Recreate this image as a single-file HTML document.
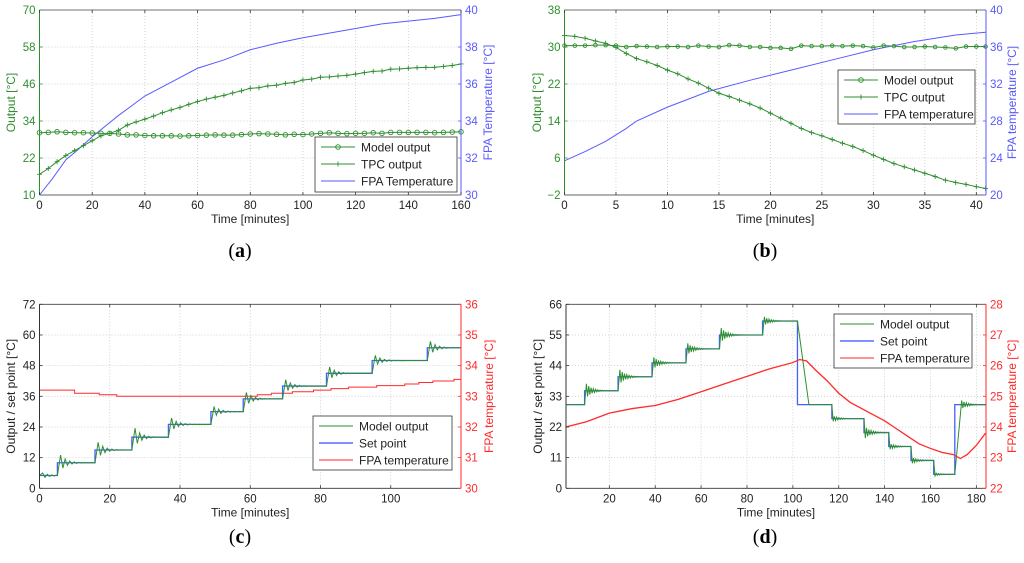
<!DOCTYPE html>
<html><head><meta charset="utf-8">
<style>
html,body{margin:0;padding:0;background:#fff;}
svg{display:block;font-family:"Liberation Sans",sans-serif;}
.cap{font-family:"Liberation Serif",serif;font-size:20px;}
</style></head>
<body>
<svg id="fig" width="1024" height="563" viewBox="0 0 1024 563"></svg>
<script>
// ---------- Panel (a) data ----------
const aTime = [0,3.33,6.67,10,13.33,16.67,20,23.33,26.67,30,33.33,36.67,40,43.33,46.67,50,53.33,56.67,60,63.33,66.67,70,73.33,76.67,80,83.33,86.67,90,93.33,96.67,100,103.33,106.67,110,113.33,116.67,120,123.33,126.67,130,133.33,136.67,140,143.33,146.67,150,153.33,156.67,160];
const aModel = [30.2,30.3,30.5,30.3,30.2,30.2,30.1,30,30,29.8,29.5,29.5,29.3,29.2,29.2,29.2,29.1,29.2,29.3,29.4,29.5,29.4,29.4,29.6,29.8,29.9,29.8,29.7,29.5,29.7,29.6,29.8,30,30.2,30,29.9,30,30,30.2,30,30.3,30.3,30.3,30.3,30.3,30.2,30.3,30.4,30.5];
const aTPC = [16.7,18.6,20.8,22.8,24.4,26,27.6,29.2,30,31,32.7,33.7,34.6,35.6,36.7,37.6,38.4,39.4,40.3,41.1,41.7,42.3,43.1,43.8,44.6,44.8,45.4,45.6,46.2,46.5,47.3,47.6,48.2,48.3,48.6,48.8,49.2,49.7,50.1,50.2,50.8,50.9,51.1,51.3,51.4,51.4,51.7,52,52.5];
const aFpaT = [0,5,10,15,20,30,40,50,60,70,80,90,100,110,120,130,140,150,160];
const aFpa = [30,30.9,31.9,32.5,33.15,34.3,35.35,36.1,36.85,37.3,37.85,38.2,38.5,38.75,39,39.25,39.4,39.55,39.75];
// ---------- Panel (b) data ----------
const bTime = [0,1,2,3,4,5,6,7,8,9,10,11,12,13,14,15,16,17,18,19,20,21,22,23,24,25,26,27,28,29,30,31,32,33,34,35,36,37,38,39,40,40.9];
const bTPC = [32.5,32.3,31.9,31.3,30.8,29.9,28.6,27.5,26.8,26,25,24.2,23.1,22.2,21.1,20,19.3,18.5,17.7,16.8,15.7,14.6,13.5,12.4,11.5,10.8,10,9.2,8.5,7.6,6.6,5.7,4.8,4.1,3.4,2.7,2,1.2,0.7,0.3,-0.2,-0.6];
const bModel = [30.3,30.3,30.3,30.4,30.4,30.3,30,30.2,30.1,30,30.1,30.1,30,30.3,30.1,30,30.4,30.3,30,30,29.8,29.8,29.6,30.3,30.2,30.2,30.3,30.2,30.3,30.2,29.9,30.3,30.2,30,30,30.1,30,29.9,29.7,30.1,30.1,30.1];
const bFpaT = [0,2,4,6,7,10,14,18,22,26,30,34,38,40.9];
const bFpa = [23.7,24.7,25.8,27.2,28,29.5,31.2,32.4,33.5,34.6,35.7,36.6,37.3,37.6];
// ---------- Panel (c) data ----------
const cStepT = [0,5.1,15.8,26.3,36.7,48.8,58,69.2,81.7,94.7,110.4];
const cSet = [5,10,15,20,25,30,35,40,45,50,55];
const cPeak = [6,13,18,23.5,27.5,32,37.5,42.5,47.5,52,57.5];
const cFpaT = [0,10,17,22,58,62,66,72,78,83,88,96,104,108,112,118,120];
const cFpa = [33.2,33.1,33.05,33.0,33.0,33.05,33.1,33.15,33.2,33.25,33.3,33.35,33.4,33.45,33.5,33.55,33.5];
// ---------- Panel (d) data ----------
const dStepT = [1.1,9.2,23.8,38.6,53.4,68,86.8,102,117,131,141.8,151.5,161.4,170.6];
const dSet = [30,35,40,45,50,55,60,30,25,20,15,10,5,30];
const dPeak = [30,37.5,42.5,47,52,57.5,61.5,30,24,18,14,9,4.5,31.5];
const dRise = [0.3,0.8,0.8,0.8,0.8,0.8,0.8,5,0.6,0.6,0.6,0.6,0.6,3];
const dFpaT = [1,10,20,30,40,50,60,70,80,90,100,103,106,110,115,120,125,130,135,140,145,150,155,160,165,170,173,176,180,184];
const dFpa = [24.0,24.17,24.45,24.6,24.7,24.9,25.15,25.4,25.65,25.9,26.1,26.2,26.15,25.85,25.5,25.1,24.8,24.6,24.4,24.2,23.95,23.7,23.45,23.3,23.17,23.1,22.97,23.1,23.4,23.8];

const NS = 'http://www.w3.org/2000/svg';
const fig = document.getElementById('fig');
function el(tag, attrs, parent, txt){
  const e = document.createElementNS(NS, tag);
  for (const k in attrs) e.setAttribute(k, attrs[k]);
  if (txt !== undefined) e.textContent = txt;
  (parent || fig).appendChild(e);
  return e;
}
const GREEN = '#2f8f2f', BLUE = '#5a5aff', RED = '#ff2a2a';

function makePanel(p){
  const g = el('g', {});
  
  
  const b = p.box;
  const sx = v => b.l + (v - p.xr[0]) / (p.xr[1] - p.xr[0]) * (b.r - b.l);
  const syl = v => b.b - (v - p.yl[0]) / (p.yl[1] - p.yl[0]) * (b.b - b.t);
  const syr = v => b.b - (v - p.yr[0]) / (p.yr[1] - p.yr[0]) * (b.b - b.t);
  el('rect', {x:b.l, y:b.t, width:b.r-b.l, height:b.b-b.t, fill:'#fff'}, g);
  p.xt.forEach(v => { if (v > p.xr[0] && v < p.xr[1]) {
    const ln = el('line', {x1:sx(v), x2:sx(v), y1:b.t, y2:b.b, stroke:'#c8c8c8', 'stroke-dasharray':'1,2', 'stroke-width':0.8}, g);
    
    
  }});
  p.ylt.forEach(v => { if (v > p.yl[0] && v < p.yl[1]) {
    const ln = el('line', {x1:b.l, x2:b.r, y1:syl(v), y2:syl(v), stroke:'#c8c8c8', 'stroke-dasharray':'1,2', 'stroke-width':0.8}, g);
    
    
  }});
  p.series.forEach(s => {
    const ys = s.axis === 'r' ? syr : syl;
    const d = s.pts.map((q, i) => (i ? 'L' : 'M') + sx(q[0]).toFixed(2) + ' ' + ys(q[1]).toFixed(2)).join('');
    const path = el('path', {d:d, fill:'none', stroke:s.color, 'stroke-width':s.w || 1}, g);
    
    
    if (s.marker) {
      s.pts.forEach(q => {
        const x = sx(q[0]), y = ys(q[1]);
        if (s.marker === 'o') {
          const c = el('circle', {cx:x, cy:y, r:s.mr, fill:'none', stroke:s.color, 'stroke-width':0.9}, g);
          
          
        } else {
          const m = el('path', {d:`M${x-2.5} ${y}H${x+2.5}M${x} ${y-2.5}V${y+2.5}`, stroke:s.color, 'stroke-width':0.9}, g);
          
          
        }
      });
    }
  });
  el('line', {x1:b.l, x2:b.r, y1:b.t, y2:b.t, stroke:'#444', 'stroke-width':0.8}, g);
  el('line', {x1:b.l, x2:b.r, y1:b.b, y2:b.b, stroke:'#333', 'stroke-width':0.8}, g);
  el('line', {x1:b.l, x2:b.l, y1:b.t, y2:b.b, stroke:p.lc, 'stroke-width':1}, g);
  el('line', {x1:b.r, x2:b.r, y1:b.t, y2:b.b, stroke:p.rc, 'stroke-width':1}, g);
  p.xt.forEach(v => {
    el('line', {x1:sx(v), x2:sx(v), y1:b.b, y2:b.b-3, stroke:'#333', 'stroke-width':0.8}, g);
    el('line', {x1:sx(v), x2:sx(v), y1:b.t, y2:b.t+3, stroke:'#333', 'stroke-width':0.8}, g);
    const t = el('text', {x:sx(v), y:b.b+14, 'text-anchor':'middle', 'font-size':11.5, fill:'#222'}, g, String(v));
    
    
  });
  p.ylt.forEach(v => {
    el('line', {x1:b.l, x2:b.l+3, y1:syl(v), y2:syl(v), stroke:p.lc, 'stroke-width':0.8}, g);
    const t = el('text', {x:b.l-4, y:syl(v)+4, 'text-anchor':'end', 'font-size':11.5, fill:p.lt}, g, String(v).replace('-', '\u2212'));
    
    
  });
  p.yrt.forEach(v => {
    el('line', {x1:b.r, x2:b.r-3, y1:syr(v), y2:syr(v), stroke:p.rc, 'stroke-width':0.8}, g);
    const t = el('text', {x:b.r+4, y:syr(v)+4, 'text-anchor':'start', 'font-size':11.5, fill:p.rc}, g, String(v));
    
    
  });
  const cy = (b.t + b.b) / 2;
  const xl = el('text', {x:(b.l+b.r)/2, y:b.b+28, 'text-anchor':'middle', 'font-size':12, fill:'#222'}, g, 'Time [minutes]');
  
  
  const yl = el('text', {x:p.ylx, y:cy, 'text-anchor':'middle', 'font-size':12, fill:p.lt, transform:`rotate(-90 ${p.ylx} ${cy})`}, g, p.ylabel);
  
  
  const yr = el('text', {x:p.yrx, y:cy, 'text-anchor':'middle', 'font-size':12, fill:p.rc, transform:`rotate(-90 ${p.yrx} ${cy})`}, g, p.yrlabel);
  
  
  const L = p.leg;
  const lg = el('g', {}, g);
  
  
  el('rect', {x:L.x, y:L.y, width:L.w, height:L.h, fill:'#fff', stroke:'#333', 'stroke-width':0.8}, lg);
  L.items.forEach((it, i) => {
    const yy = L.y + 10 + i * 17;
    const e = el('g', {}, lg);
    
    
    el('line', {x1:L.x+6, x2:L.x+40, y1:yy, y2:yy, stroke:it.c, 'stroke-width':it.w || 1}, e);
    if (it.m === 'o') el('circle', {cx:L.x+23, cy:yy, r:2.3, fill:'none', stroke:it.c, 'stroke-width':0.9}, e);
    if (it.m === '+') el('path', {d:`M${L.x+20.5} ${yy}H${L.x+25.5}M${L.x+23} ${yy-2.5}V${yy+2.5}`, stroke:it.c, 'stroke-width':0.9}, e);
    el('text', {x:L.x+46, y:yy+4.5, 'font-size':12, fill:'#222'}, e, it.t);
  });
}

function zip(xs, ys){ return xs.map((x, i) => [x, ys[i]]); }
function stepLine(ts, vs, xend){
  const pts = [];
  ts.forEach((t, i) => { if (i) pts.push([t, vs[i-1]]); pts.push([t, vs[i]]); });
  pts.push([xend, vs[vs.length-1]]);
  return pts;
}
function ringLine(ts, sets, peaks, rise, period, decay, xend){
  const pts = [];
  ts.forEach((t, k) => {
    const prev = k ? sets[k-1] : sets[0];
    pts.push([t, prev]);
    const r = rise[k];
    pts.push([t + r, peaks[k]]);
    const amp = peaks[k] - sets[k];
    const next = k + 1 < ts.length ? ts[k+1] : xend;
    for (let n = 1; n < 24; n++) {
      const tt = t + r + n * period / 2;
      if (tt >= next) break;
      pts.push([tt, sets[k] + amp * Math.pow(-decay, n)]);
    }
    pts.push([next, sets[k]]);
  });
  return pts;
}

makePanel({name:'panel-a', box:{l:39.5, r:461, t:10, b:195}, xr:[0,160], yl:[10,70], yr:[30,40],
  xt:[0,20,40,60,80,100,120,140,160], ylt:[10,22,34,46,58,70], yrt:[30,32,34,36,38,40],
  lc:GREEN, lt:GREEN, rc:BLUE, ylabel:'Output [°C]', yrlabel:'FPA Temperature [°C]', ylx:15, yrx:492,
  series:[
    {name:'fpa-temperature-line', pts:zip(aFpaT, aFpa), axis:'r', color:BLUE},
    {name:'tpc-output-line', pts:zip(aTime, aTPC), color:GREEN, marker:'+'},
    {name:'model-output-line', pts:zip(aTime, aModel), color:GREEN, marker:'o', mr:2.3}
  ],
  leg:{x:315, y:137, w:142, h:55, items:[{t:'Model output', c:GREEN, m:'o'},{t:'TPC output', c:GREEN, m:'+'},{t:'FPA Temperature', c:BLUE}]}
});
makePanel({name:'panel-b', box:{l:564.5, r:986, t:10, b:195}, xr:[0,40.94], yl:[-2,38], yr:[20,40],
  xt:[0,5,10,15,20,25,30,35,40], ylt:[-2,6,14,22,30,38], yrt:[20,24,28,32,36,40],
  lc:GREEN, lt:GREEN, rc:BLUE, ylabel:'Output [°C]', yrlabel:'FPA temperature [°C]', ylx:541, yrx:1016,
  series:[
    {name:'fpa-temperature-line', pts:zip(bFpaT, bFpa), axis:'r', color:BLUE},
    {name:'tpc-output-line', pts:zip(bTime, bTPC), color:GREEN, marker:'+'},
    {name:'model-output-line', pts:zip(bTime, bModel), color:GREEN, marker:'o', mr:1.8}
  ],
  leg:{x:838, y:70, w:137, h:54, items:[{t:'Model output', c:GREEN, m:'o'},{t:'TPC output', c:GREEN, m:'+'},{t:'FPA temperature', c:BLUE}]}
});
makePanel({name:'panel-c', box:{l:39.5, r:461, t:304.3, b:488.3}, xr:[0,120], yl:[0,72], yr:[30,36],
  xt:[0,20,40,60,80,100], ylt:[0,12,24,36,48,60,72], yrt:[30,31,32,33,34,35,36],
  lc:'#333', lt:'#222', rc:RED, ylabel:'Output / set point [°C]', yrlabel:'FPA temperature [°C]', ylx:15, yrx:493,
  series:[
    {name:'fpa-temperature-line', pts:stepLine(cFpaT, cFpa, 120), axis:'r', color:RED},
    {name:'set-point-line', pts:stepLine(cStepT, cSet, 120), color:'#4060ff', w:1.3},
    {name:'model-output-line', pts:ringLine(cStepT, cSet, cPeak, cStepT.map(()=>0.9), 1.3, 0.7, 120), color:GREEN}
  ],
  leg:{x:313, y:416, w:139, h:54, items:[{t:'Model output', c:GREEN},{t:'Set point', c:'#8090ff', w:2},{t:'FPA temperature', c:RED}]}
});
makePanel({name:'panel-d', box:{l:566, r:986, t:304.3, b:488.3}, xr:[1.1,184.2], yl:[0,66], yr:[22,28],
  xt:[20,40,60,80,100,120,140,160,180], ylt:[0,11,22,33,44,55,66], yrt:[22,23,24,25,26,27,28],
  lc:'#333', lt:'#222', rc:RED, ylabel:'Output / set point [°C]', yrlabel:'FPA temperature [°C]', ylx:542, yrx:1016,
  series:[
    {name:'set-point-line', pts:stepLine(dStepT, dSet, 184.2), color:'#4060ff', w:1.3},
    {name:'model-output-line', pts:ringLine(dStepT, dSet, dPeak, dRise, 1.0, 0.82, 184.2), color:GREEN},
    {name:'fpa-temperature-line', pts:zip(dFpaT, dFpa), axis:'r', color:RED, w:1.3}
  ],
  leg:{x:834, y:314, w:138, h:54, items:[{t:'Model output', c:GREEN},{t:'Set point', c:'#8090ff', w:2},{t:'FPA temperature', c:RED}]}
});
[['(a)',240,257],['(b)',765,257],['(c)',240,543],['(d)',765,543]].forEach(c => {
  const t = el('text', {x:c[1], y:c[2], 'text-anchor':'middle', class:'cap'});
  
  
  el('tspan', {}, t, '(');
  el('tspan', {'font-weight':'bold'}, t, c[0].slice(1, 2));
  el('tspan', {}, t, ')');
});
</script>
</body></html>
